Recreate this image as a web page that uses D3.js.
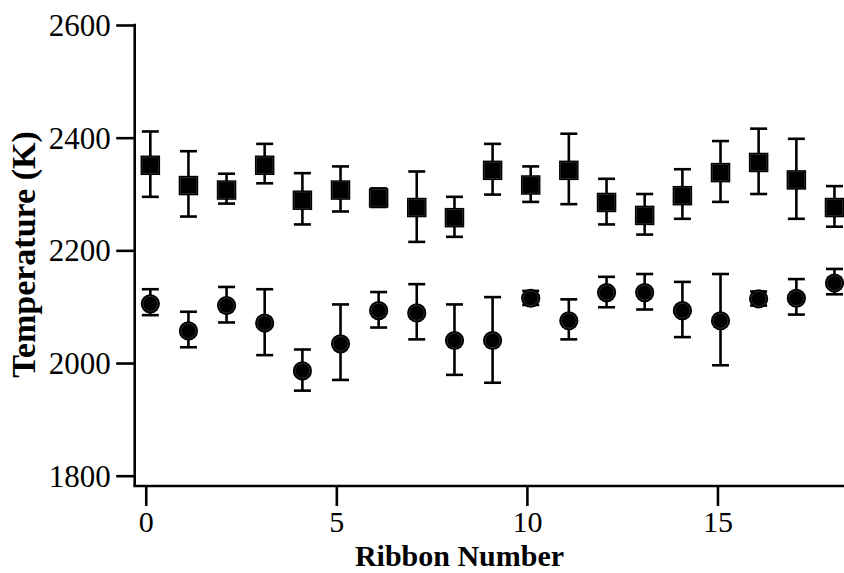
<!DOCTYPE html>
<html>
<head>
<meta charset="utf-8">
<script src="https://cdn.jsdelivr.net/npm/d3@7"></script>
<style>
  html, body { margin: 0; padding: 0; background: #fff; }
  svg { display: block; }
  text { font-family: "Liberation Serif", "Times New Roman", serif; fill: #000; }
</style>
</head>
<body>
<svg id="chart" width="844" height="573"></svg>
<script>
// ---- data ----
const ribbon = [0.12, 1.12, 2.12, 3.12, 4.11, 5.11, 6.11, 7.11, 8.1, 9.1, 10.1, 11.1, 12.09, 13.09, 14.08, 15.08, 16.08, 17.07, 18.07];

const squareT  = [2351, 2315, 2307, 2351, 2289, 2307, 2293, 2276, 2258, 2342, 2316, 2342, 2285, 2262, 2297, 2338, 2356, 2325, 2276];
const squareHi = [2411, 2376, 2336, 2389, 2337, 2349, 2310, 2340, 2295, 2389, 2349, 2407, 2327, 2300, 2344, 2394, 2416, 2398, 2314];
const squareLo = [2295, 2260, 2283, 2319, 2246, 2269, 2277, 2215, 2224, 2299, 2286, 2282, 2246, 2228, 2256, 2286, 2300, 2256, 2242];

const circleT  = [2105, 2057, 2102, 2071, 1986, 2034, 2093, 2089, 2040, 2040, 2115, 2075, 2125, 2125, 2093, 2075, 2114, 2115, 2142];
const circleHi = [2131, 2091, 2135, 2131, 2024, 2104, 2126, 2140, 2104, 2117, 2128, 2113, 2153, 2158, 2144, 2158, 2127, 2149, 2167];
const circleLo = [2085, 2028, 2072, 2014, 1951, 1970, 2063, 2042, 1979, 1965, 2103, 2042, 2099, 2095, 2046, 1996, 2102, 2086, 2122];

const xTicks = [0, 5, 10, 15];
const yTicks = [1800, 2000, 2200, 2400, 2600];
const xLabel = "Ribbon Number";
const yLabel = "Temperature (K)";

// ---- layout ----
const svg = d3.select("#chart");
const left = 134.7, right = 844, axisY = 486;
const x = d3.scaleLinear().domain([-0.29, 18.32]).range([left, right]);
const y = d3.scaleLinear().domain([1800, 2600]).range([475.7, 25]);

const lw = 2.6;

// axes
const gx = svg.append("g").attr("transform", `translate(0,${axisY})`)
  .call(d3.axisBottom(x).tickValues(xTicks).tickSize(20).tickPadding(3).tickFormat(d3.format("d")));
gx.select(".domain").remove();
gx.selectAll(".tick line").attr("stroke", "#000").attr("stroke-width", lw);
gx.selectAll(".tick text").attr("font-size", 30).attr("dy", "0.78em")
  .style("font-family", "'Liberation Serif', serif");

const gy = svg.append("g").attr("transform", `translate(${left},0)`)
  .call(d3.axisLeft(y).tickValues(yTicks).tickSize(18.5).tickPadding(5.5).tickFormat(d3.format("d")));
gy.select(".domain").remove();
gy.selectAll(".tick line").attr("stroke", "#000").attr("stroke-width", lw);
gy.selectAll(".tick text").attr("font-size", 31).attr("dy", "0.34em")
  .style("font-family", "'Liberation Serif', serif");

// axis lines
svg.append("line").attr("x1", left).attr("x2", left).attr("y1", y(2600) - lw / 2).attr("y2", axisY)
  .attr("stroke", "#000").attr("stroke-width", lw);
svg.append("line").attr("x1", left - lw / 2).attr("x2", right).attr("y1", axisY).attr("y2", axisY)
  .attr("stroke", "#000").attr("stroke-width", lw);

// axis titles
svg.append("text").attr("x", 459.5).attr("y", 566).attr("text-anchor", "middle")
  .attr("font-size", 30).attr("font-weight", "bold").text(xLabel);
svg.append("text").attr("transform", "translate(35,254.5) rotate(-90)").attr("text-anchor", "middle")
  .attr("font-size", 34).attr("font-weight", "bold").text(yLabel);

// ---- series ----
function errorBars(vals, hi, lo) {
  const g = svg.append("g").attr("stroke", "#000").attr("stroke-width", lw).attr("fill", "none");
  const capW = 8.5;
  ribbon.forEach((r, i) => {
    const cx = x(r);
    g.append("line").attr("x1", cx).attr("x2", cx).attr("y1", y(hi[i])).attr("y2", y(lo[i]));
    g.append("line").attr("x1", cx - capW).attr("x2", cx + capW).attr("y1", y(hi[i])).attr("y2", y(hi[i]));
    g.append("line").attr("x1", cx - capW).attr("x2", cx + capW).attr("y1", y(lo[i])).attr("y2", y(lo[i]));
  });
}

errorBars(squareT, squareHi, squareLo);
errorBars(circleT, circleHi, circleLo);

const sq = 19.5;
const gs = svg.append("g");
gs.selectAll("rect.outer").data(squareT).join("rect").attr("class", "outer")
  .attr("x", (d, i) => x(ribbon[i]) - sq / 2).attr("y", d => y(d) - sq / 2)
  .attr("width", sq).attr("height", sq).attr("fill", "#000");
gs.selectAll("rect.inner").data(squareT).join("rect").attr("class", "inner")
  .attr("x", (d, i) => x(ribbon[i]) - sq / 2 + 1.6).attr("y", d => y(d) - sq / 2 + 1.6)
  .attr("width", sq - 3.2).attr("height", sq - 3.2).attr("fill", "none")
  .attr("stroke", "#3a3a3a").attr("stroke-width", 0.6);

const rr = 9.6;
const gc = svg.append("g");
gc.selectAll("circle.outer").data(circleT).join("circle").attr("class", "outer")
  .attr("cx", (d, i) => x(ribbon[i])).attr("cy", d => y(d)).attr("r", rr).attr("fill", "#000");
gc.selectAll("circle.inner").data(circleT).join("circle").attr("class", "inner")
  .attr("cx", (d, i) => x(ribbon[i])).attr("cy", d => y(d)).attr("r", rr - 2.2)
  .attr("fill", "none").attr("stroke", "#444").attr("stroke-width", 0.7);
</script>
</body>
</html>
